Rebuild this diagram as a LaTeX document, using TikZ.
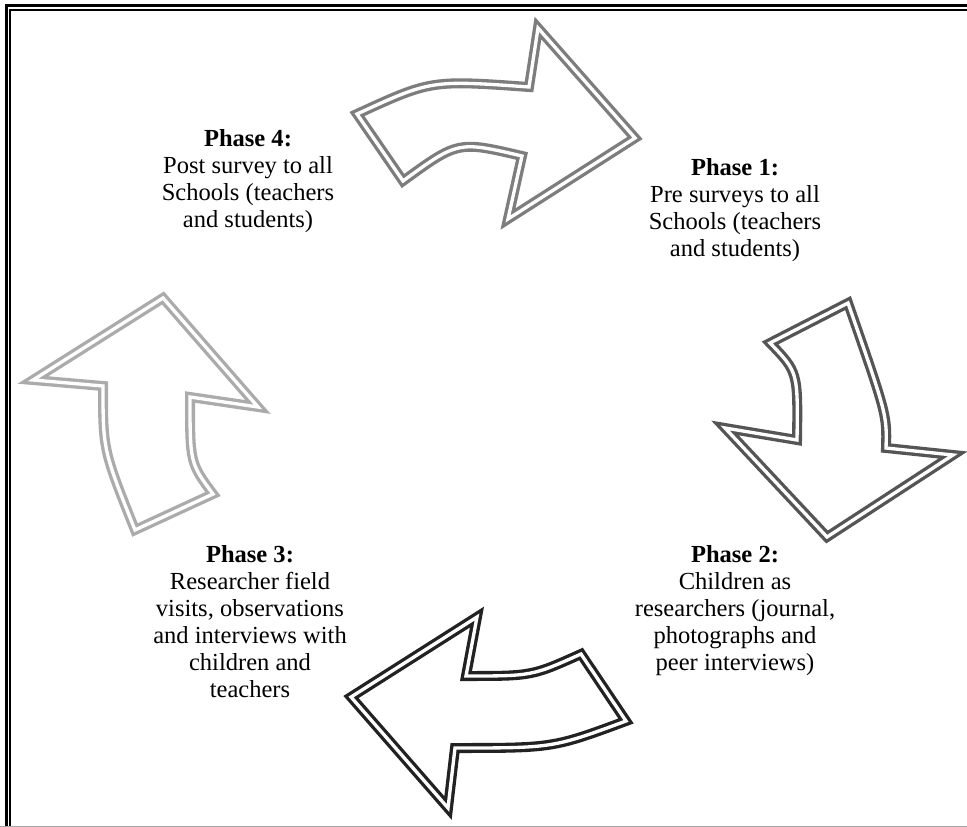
\documentclass[tikz,border=0pt]{standalone}
\usepackage{fontspec}
\setmainfont{Liberation Serif}
\usetikzlibrary{positioning}

\definecolor{arrowone}{HTML}{7D7D7D}
\definecolor{arrowtwo}{HTML}{555555}
\definecolor{arrowthree}{HTML}{222222}
\definecolor{arrowfour}{HTML}{ABABAB}

\tikzset{
  cyclearrow/.style={draw=#1, fill=white, double=white, line width=2.5pt, double distance=2.5pt, line join=miter},
  phasetext/.style={align=center, font=\fontsize{18.4}{20.25}\selectfont, inner sep=0pt, anchor=base}
}

\begin{document}
\begin{tikzpicture}[x=0.75pt, y=-0.75pt]
  % Page and frame
  \fill[white] (0,0) rectangle (967,827);
  \useasboundingbox (0,0) rectangle (967,827);
  \draw[line width=2.25pt] (6,827) -- (6,6) -- (967,6);
  \draw[line width=1.5pt] (10,827) -- (10,10) -- (967,10);
  \draw[black!35, line width=0.75pt] (0,826) -- (967,826);

  % Arrow - Top (towards Phase 1)
  \draw[cyclearrow=arrowone] (635,138) -- (508,219) -- (522,156) .. controls (458,141) .. (403,181)
    -- (357,114) .. controls (431,80) .. (529,87) -- (538,28) -- cycle;

  % Arrow - Right (towards Phase 2)
  \draw[cyclearrow=arrowtwo] (827,537) -- (953,455) -- (886,448) .. controls (887,415) .. (848,303)
    -- (770,343) .. controls (798,372) .. (797,440) -- (725,428) -- cycle;

  % Arrow - Bottom (towards Phase 3)
  \draw[cyclearrow=arrowthree] (351,697) -- (477,617) -- (466,676) .. controls (532,676) .. (581,654)
    -- (626,721) .. controls (553,748) .. (455,748) -- (448,808) -- cycle;

  % Arrow - Left (towards Phase 4)
  \draw[cyclearrow=arrowfour] (163,298) -- (258,407) -- (190,397) .. controls (190,463) .. (213,494)
    -- (135,530) .. controls (103,450) .. (103,386) -- (33,380) -- cycle;

  % Labels (placed at the baseline of the last line)
  \node[phasetext] (phase4) at (248,228) {\textbf{Phase 4:}\\Post survey to all\\Schools (teachers\\and students)};
  \node[phasetext] (phase1) at (735,257) {\textbf{Phase 1:}\\Pre surveys to all\\Schools (teachers\\and students)};
  \node[phasetext] (phase2) at (735,670) {\textbf{Phase 2:}\\Children as\\researchers (journal,\\photographs and\\peer interviews)};
  \node[phasetext] (phase3) at (250,697) {\textbf{Phase 3:}\\Researcher field\\visits, observations\\and interviews with\\children and\\teachers};
\end{tikzpicture}
\end{document}
